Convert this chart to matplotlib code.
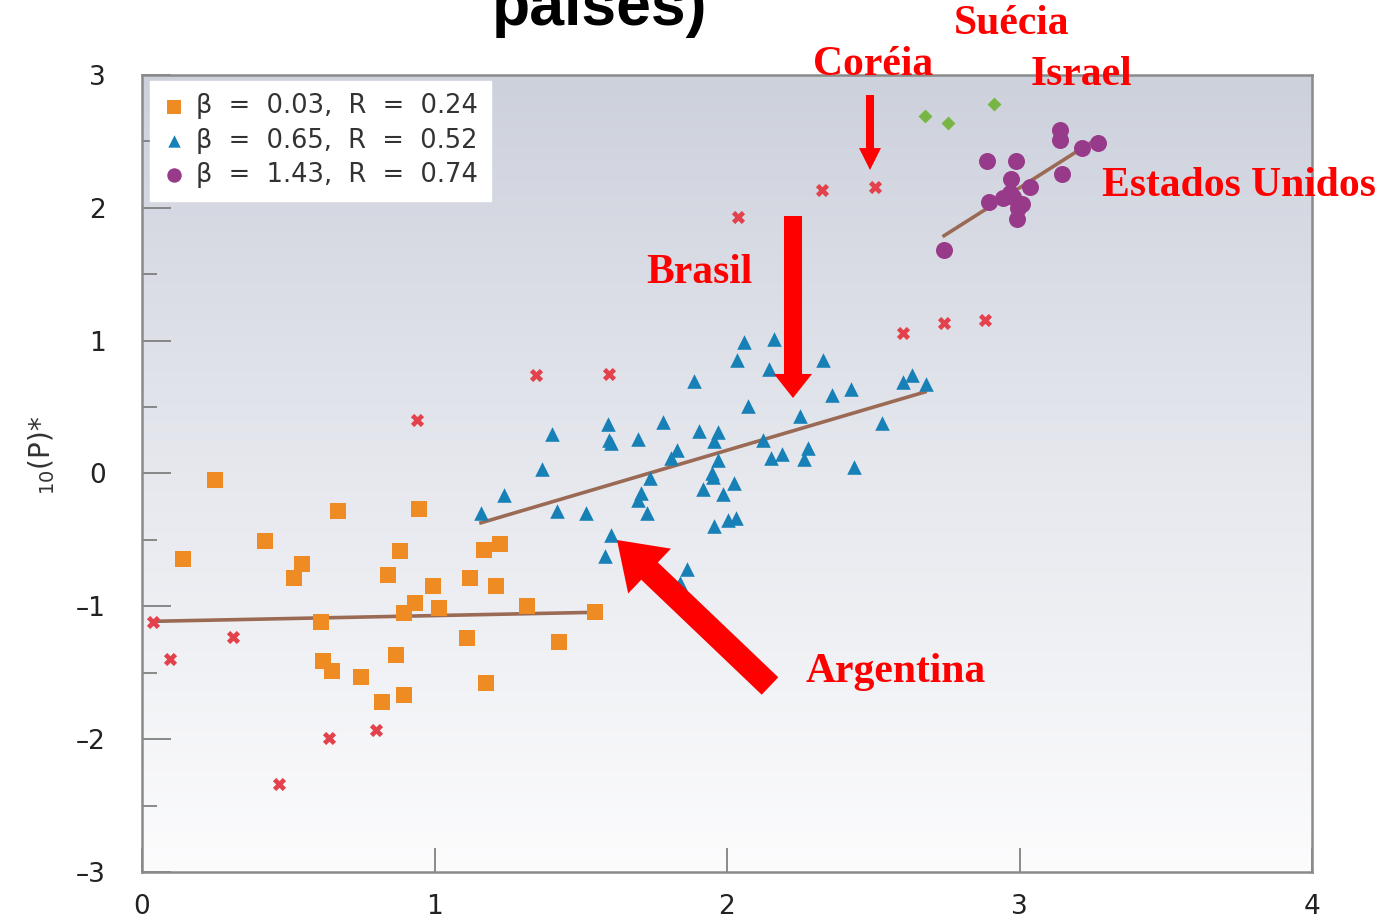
import numpy as np
import matplotlib
matplotlib.use("Agg")
import matplotlib.pyplot as plt
from matplotlib.colors import LinearSegmentedColormap

# --- data ---
sq_x = [0.139, 0.25, 0.42, 0.548, 0.52, 0.669, 0.612, 0.618, 0.649, 0.748,
        0.819, 0.868, 0.897, 0.84, 0.883, 0.947, 0.933, 0.897, 0.994, 1.015,
        1.111, 1.121, 1.168, 1.225, 1.21, 1.175, 1.317, 1.425, 1.549]
sq_y = [-0.647, -0.05, -0.51, -0.68, -0.79, -0.286, -1.115, -1.41, -1.49, -1.53,
        -1.72, -1.37, -1.67, -0.765, -0.58, -0.268, -0.975, -1.05, -0.847, -1.015,
        -1.24, -0.79, -0.577, -0.534, -0.847, -1.58, -0.997, -1.27, -1.04]

tri_x = [1.159, 1.239, 1.368, 1.403, 1.42, 1.518, 1.593, 1.596, 1.604, 1.604,
         1.582, 1.697, 1.706, 1.695, 1.728, 1.737, 1.78, 1.81, 1.828, 1.862,
         1.839, 1.887, 1.905, 1.917, 1.95, 1.953, 1.956, 1.97, 1.97, 1.957,
         1.988, 2.005, 2.031, 2.024, 2.033, 2.059, 2.071, 2.159, 2.143, 2.124,
         2.15, 2.187, 2.25, 2.264, 2.278, 2.329, 2.358, 2.423, 2.434, 2.53,
         2.603, 2.631, 2.679]
tri_y = [-0.296, -0.165, 0.035, 0.296, -0.28, -0.296, 0.371, 0.25, 0.231, -0.466,
         -0.622, 0.261, -0.145, -0.2, -0.296, -0.033, 0.391, 0.118, 0.175, -0.717,
         -0.827, 0.699, 0.318, -0.115, 0.0, -0.028, 0.243, 0.31, 0.105, -0.396,
         -0.158, -0.351, -0.333, -0.073, 0.852, 0.987, 0.511, 1.015, 0.784, 0.25,
         0.115, 0.15, 0.436, 0.11, 0.19, 0.852, 0.589, 0.637, 0.047, 0.381,
         0.689, 0.744, 0.674]

circ_x = [2.742, 2.888, 2.987, 2.97, 2.896, 2.945, 2.979, 3.036, 2.996, 2.99,
          2.968, 3.01, 3.138, 3.138, 3.147, 3.215, 3.267]
circ_y = [1.679, 2.356, 2.356, 2.218, 2.043, 2.073, 2.085, 2.155, 1.998, 1.915,
          2.115, 2.03, 2.586, 2.511, 2.256, 2.454, 2.486]

cross_x = [0.036, 0.097, 0.31, 0.469, 0.64, 0.799, 0.939, 1.347, 1.597, 2.037,
           2.325, 2.506, 2.601, 2.742, 2.882]
cross_y = [-1.12, -1.40, -1.23, -2.34, -1.99, -1.93, 0.406, 0.744, 0.752, 1.932,
           2.135, 2.158, 1.06, 1.135, 1.158]

dia_x = [2.677, 2.754, 2.913]
dia_y = [2.69, 2.637, 2.78]

# fitted lines (endpoints)
fit_sq_x, fit_sq_y = [0.034, 1.549], [-1.113, -1.045]
fit_tri_x, fit_tri_y = [1.159, 2.677], [-0.371, 0.614]
fit_circ_x, fit_circ_y = [2.742, 3.264], [1.79, 2.519]

legend_labels = ["β = 0.03, R = 0.24", "β = 0.65, R = 0.52", "β = 1.43, R = 0.74"]

W, H = 1394, 919
fig = plt.figure(figsize=(W / 100, H / 100), dpi=100)
ax = fig.add_axes([142 / W, 1 - 872 / H, (1312 - 142) / W, (872 - 75) / H])

# background gradient
cmap = LinearSegmentedColormap.from_list("bg", ["#fcfcfd", "#e6e8ee", "#cdd1dc"])
grad = np.linspace(0, 1, 256).reshape(-1, 1)
ax.imshow(grad, extent=[0, 4, -3, 3], origin="lower", aspect="auto", cmap=cmap, zorder=0)

line_c = "#9a6a55"
ax.plot(fit_sq_x, fit_sq_y, color=line_c, lw=2.6, zorder=2)
ax.plot(fit_tri_x, fit_tri_y, color=line_c, lw=2.6, zorder=2)
ax.plot(fit_circ_x, fit_circ_y, color=line_c, lw=2.6, zorder=2)

ax.scatter(cross_x, cross_y, marker="X", s=90, color="#e3424c", linewidths=0, zorder=3)
ax.scatter(dia_x, dia_y, marker="D", s=50, color="#77b644", linewidths=0, zorder=3)
h1 = ax.scatter(sq_x, sq_y, marker="s", s=130, color="#ee8b22", linewidths=0, zorder=3)
h2 = ax.scatter(tri_x, tri_y, marker="^", s=110, color="#1780b6", linewidths=0, zorder=3)
h3 = ax.scatter(circ_x, circ_y, marker="o", s=150, color="#983a8a", linewidths=0, zorder=3)

ax.set_xlim(0, 4)
ax.set_ylim(-3, 3)
ax.set_xticks([0, 1, 2, 3, 4])
ax.set_yticks([-3, -2, -1, 0, 1, 2, 3])
ax.set_yticks(np.arange(-2.5, 3, 1.0), minor=True)
ax.set_xticklabels(["0", "1", "2", "3", "4"])
ax.set_yticklabels(["–3", "–2", "–1", "0", "1", "2", "3"])
tick_font = ["Liberation Sans Narrow", "DejaVu Sans"]
for lbl in ax.get_xticklabels() + ax.get_yticklabels():
    lbl.set_family(tick_font)
    lbl.set_fontsize(19)
    lbl.set_color("#222222")
ax.tick_params(axis="x", direction="in", length=17, width=1.2, color="#777777", pad=16)
ax.tick_params(axis="y", which="major", direction="in", length=21, width=1.2, color="#777777", pad=26)
ax.tick_params(axis="y", which="minor", direction="in", length=11, width=1.2, color="#777777")
for sp in ax.spines.values():
    sp.set_color("#8a8a8a")
    sp.set_linewidth(1.8)

leg_names = [s.replace(" = ", "  =  ").replace(", ", ",  ") for s in legend_labels]
leg = ax.legend([h1, h2, h3], leg_names, loc="upper left", bbox_to_anchor=(0.0068, 0.993),
                frameon=True, fancybox=False, framealpha=1, edgecolor="white",
                prop={"family": "DejaVu Sans", "size": 18.5}, handletextpad=0.4,
                labelspacing=0.32, borderpad=0.5, handlelength=0.9, markerscale=0.85,
                borderaxespad=0)
for t in leg.get_texts():
    t.set_color("#333333")

# y-axis label fragment
fig.text(42 / W, 1 - 455 / H, r"$_{10}$(P)*", rotation=90, ha="center", va="center",
         fontsize=20, color="#333333", family="DejaVu Sans")

# cut-off title
fig.text(600 / W, 1 - 25 / H, "países)", ha="center", va="baseline", fontsize=45,
         fontweight="bold", family="Liberation Sans")

# red annotations
red = "#ff0000"
ann_font = dict(color=red, fontsize=30, fontweight="bold", family="Liberation Serif",
                ha="center", va="center")
fig.text(1012 / W, 1 - 24 / H, "Suécia", **ann_font)
fig.text(873 / W, 1 - 65 / H, "Coréia", **ann_font)
fig.text(1081 / W, 1 - 75 / H, "Israel", **ann_font)
fig.text(1239 / W, 1 - 186 / H, "Estados Unidos", **ann_font)
fig.text(699 / W, 1 - 273 / H, "Brasil", **ann_font)
fig.text(896 / W, 1 - 672 / H, "Argentina", **ann_font)


def arrow(x0, y0, x1, y1, tail, head_w, head_l):
    # widths in pixels -> points
    k = 72 / 100
    style = "simple,head_length=%.1f,head_width=%.1f,tail_width=%.1f" % (
        head_l * k, head_w * k, tail * k)
    fig.add_artist(matplotlib.patches.FancyArrowPatch(
        (x0, H - y0), (x1, H - y1), transform=None, arrowstyle=style,
        mutation_scale=1, color=red, shrinkA=0, shrinkB=0, lw=0, zorder=10))


arrow(870, 95, 870, 170, 8, 22, 22)
arrow(793, 216, 793, 398, 18, 38, 24)
arrow(770, 686, 617, 540, 24, 62, 45)

fig.savefig("out.png", dpi=100)
